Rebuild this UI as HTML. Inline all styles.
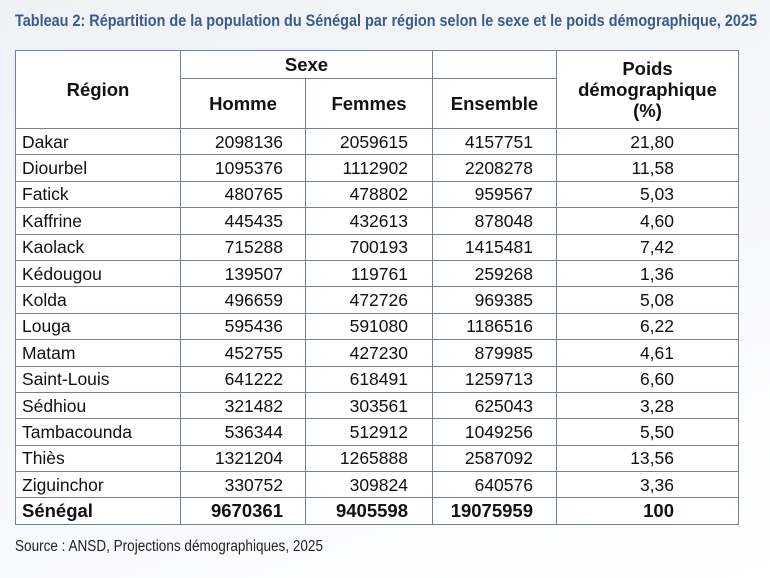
<!DOCTYPE html>
<html><head><meta charset="utf-8"><style>
html,body{margin:0;padding:0}
body{width:770px;height:578px;overflow:hidden;position:relative;background:linear-gradient(160deg,#eef1f6 0%,#f6f7fa 50%,#ffffff 100%);font-family:"Liberation Sans",sans-serif;}
svg.t{position:absolute;left:0;top:0}
table{position:absolute;left:15px;top:50px;border-collapse:collapse;background:#fff;table-layout:fixed}
td,th{border:1.5px solid #6f7cac;padding:0;font-size:17.5px;color:#111;line-height:20px}
tr.d{height:26.4px}
th{font-weight:bold;font-size:18.5px;text-align:center}
td.r{text-align:left;padding-left:6px}
td.n{text-align:right}
.c1{padding-right:22px}.c2{padding-right:24px}.c3{padding-right:23px}.c4{padding-right:64px}
tr.tot{height:27px}
tr.tot td{font-weight:bold;font-size:18.5px}
</style></head><body>
<svg class="t" width="770" height="578">
<text x="15" y="26" font-family="Liberation Sans Narrow, Liberation Sans, sans-serif" font-weight="bold" font-size="16.5" fill="#3b5a8c" textLength="742" lengthAdjust="spacingAndGlyphs">Tableau 2: Répartition de la population du Sénégal par région selon le sexe et le poids démographique, 2025</text>
<text x="15" y="551" font-family="Liberation Sans Narrow, Liberation Sans, sans-serif" font-size="15.5" fill="#222" textLength="308" lengthAdjust="spacingAndGlyphs">Source : ANSD, Projections démographiques, 2025</text>
</svg>
<table>
<colgroup><col style="width:165px"><col style="width:125px"><col style="width:127px"><col style="width:124px"><col style="width:182px"></colgroup>
<tr style="height:28px"><th rowspan="2">Région</th><th colspan="2">Sexe</th><th></th><th rowspan="2" style="line-height:21px">Poids<br>démographique<br>(%)</th></tr>
<tr style="height:50px"><th>Homme</th><th>Femmes</th><th>Ensemble</th></tr>
<tr class="d"><td class="r">Dakar</td><td class="n c1">2098136</td><td class="n c2">2059615</td><td class="n c3">4157751</td><td class="n c4">21,80</td></tr>
<tr class="d"><td class="r">Diourbel</td><td class="n c1">1095376</td><td class="n c2">1112902</td><td class="n c3">2208278</td><td class="n c4">11,58</td></tr>
<tr class="d"><td class="r">Fatick</td><td class="n c1">480765</td><td class="n c2">478802</td><td class="n c3">959567</td><td class="n c4">5,03</td></tr>
<tr class="d"><td class="r">Kaffrine</td><td class="n c1">445435</td><td class="n c2">432613</td><td class="n c3">878048</td><td class="n c4">4,60</td></tr>
<tr class="d"><td class="r">Kaolack</td><td class="n c1">715288</td><td class="n c2">700193</td><td class="n c3">1415481</td><td class="n c4">7,42</td></tr>
<tr class="d"><td class="r">Kédougou</td><td class="n c1">139507</td><td class="n c2">119761</td><td class="n c3">259268</td><td class="n c4">1,36</td></tr>
<tr class="d"><td class="r">Kolda</td><td class="n c1">496659</td><td class="n c2">472726</td><td class="n c3">969385</td><td class="n c4">5,08</td></tr>
<tr class="d"><td class="r">Louga</td><td class="n c1">595436</td><td class="n c2">591080</td><td class="n c3">1186516</td><td class="n c4">6,22</td></tr>
<tr class="d"><td class="r">Matam</td><td class="n c1">452755</td><td class="n c2">427230</td><td class="n c3">879985</td><td class="n c4">4,61</td></tr>
<tr class="d"><td class="r">Saint-Louis</td><td class="n c1">641222</td><td class="n c2">618491</td><td class="n c3">1259713</td><td class="n c4">6,60</td></tr>
<tr class="d"><td class="r">Sédhiou</td><td class="n c1">321482</td><td class="n c2">303561</td><td class="n c3">625043</td><td class="n c4">3,28</td></tr>
<tr class="d"><td class="r">Tambacounda</td><td class="n c1">536344</td><td class="n c2">512912</td><td class="n c3">1049256</td><td class="n c4">5,50</td></tr>
<tr class="d"><td class="r">Thiès</td><td class="n c1">1321204</td><td class="n c2">1265888</td><td class="n c3">2587092</td><td class="n c4">13,56</td></tr>
<tr class="d"><td class="r">Ziguinchor</td><td class="n c1">330752</td><td class="n c2">309824</td><td class="n c3">640576</td><td class="n c4">3,36</td></tr>
<tr class="tot"><td class="r">Sénégal</td><td class="n c1">9670361</td><td class="n c2">9405598</td><td class="n c3">19075959</td><td class="n c4">100</td></tr>
</table>
</body></html>
